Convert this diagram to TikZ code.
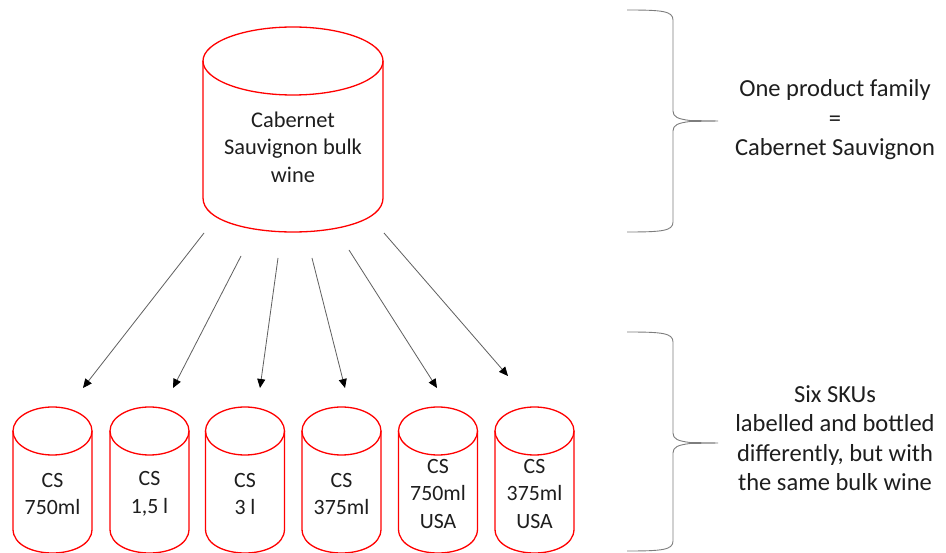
\documentclass[tikz,border=0pt]{standalone}
\usepackage{fontspec}
\setmainfont{Carlito}
\usetikzlibrary{arrows.meta}
\definecolor{inkgray}{RGB}{30,30,30}
\definecolor{bracegray}{RGB}{125,125,125}
\definecolor{shaftgray}{RGB}{95,95,95}

% cylinder outline: centre x, top y, bottom y, x radius, y radius
\newcommand\drawcask[5]{%
  \draw[vessel] (#1,#2) ellipse [x radius=#4, y radius=#5];
  \draw[vessel] (#1-#4,#2) -- (#1-#4,#3)
    .. controls (#1-#4,#3+1.333*#5) and (#1+#4,#3+1.333*#5) .. (#1+#4,#3)
    -- (#1+#4,#2);
}

\begin{document}
\begin{tikzpicture}[x=1pt,y=-1pt,
  vessel/.style={draw=red, line width=1.3pt},
  bigtext/.style={text=inkgray, align=center, font=\fontsize{22.4}{27.5}\selectfont},
  smalltext/.style={text=inkgray, align=center, font=\fontsize{21.8}{27.5}\selectfont},
  sidetext/.style={text=inkgray, align=center, font=\fontsize{24.5}{29.5}\selectfont},
  flow/.style={draw=shaftgray, line width=0.8pt, -{Triangle[length=9pt, width=8pt, color=black]}},
  brace/.style={draw=bracegray, line width=0.9pt}]
\useasboundingbox[fill=white] (0,0) rectangle (946,553);

% bulk wine tank
\drawcask{293}{61}{198}{90}{34}
\node[bigtext] (bulk) at (293,147) {Cabernet\\Sauvignon bulk\\wine};

% bottled SKUs
\drawcask{52.5}{431}{529}{39.5}{24}
\drawcask{149.5}{431}{529}{39.5}{24}
\drawcask{245}{431}{529}{39.5}{24}
\drawcask{341.5}{431}{529}{39.5}{24}
\drawcask{438}{431}{529}{39.5}{24}
\drawcask{534.5}{431}{529}{39.5}{24}
\node[smalltext] (sku1) at (52.5,494) {CS\\750ml};
\node[smalltext] (sku2) at (149.5,494) {CS\\1,5 l};
\node[smalltext] (sku3) at (245,494) {CS\\3 l};
\node[smalltext] (sku4) at (341.5,494) {CS\\375ml};
\node[smalltext] (sku5) at (438,494) {CS\\750ml\\USA};
\node[smalltext] (sku6) at (534.5,494) {CS\\375ml\\USA};

% arrow end points
\coordinate (s1) at (204,233); \coordinate (e1) at (83,388);
\coordinate (s2) at (241,256); \coordinate (e2) at (173,388);
\coordinate (s3) at (278,258); \coordinate (e3) at (260,388);
\coordinate (s4) at (312,258); \coordinate (e4) at (345,388);
\coordinate (s5) at (349,250); \coordinate (e5) at (437,388);
\coordinate (s6) at (384,233); \coordinate (e6) at (508,376);
\foreach \i in {1,...,6} \draw[flow] (s\i) -- (e\i);

% braces
\draw[brace] (627,10) .. controls (662,10) and (673,11) .. (673,20)
  -- (673,111) .. controls (673,117) and (678,119) .. (690,120.5)
  -- (718,121) -- (690,121.5) .. controls (678,123) and (673,125) .. (673,131)
  -- (673,222) .. controls (673,231) and (662,232) .. (627,232);
\draw[brace] (627,332) .. controls (662,332) and (673,333) .. (673,342)
  -- (673,433) .. controls (673,439) and (678,441) .. (690,442.5)
  -- (718,443) -- (690,443.5) .. controls (678,445) and (673,447) .. (673,453)
  -- (673,541) .. controls (673,550) and (662,551) .. (627,551);

% side notes
\node[sidetext] (family) at (835,120) {One product family\\=\\Cabernet Sauvignon};
\node[sidetext] (skus) at (835,438) {Six SKUs\\labelled and bottled\\differently, but with\\the same bulk wine};
\end{tikzpicture}
\end{document}
